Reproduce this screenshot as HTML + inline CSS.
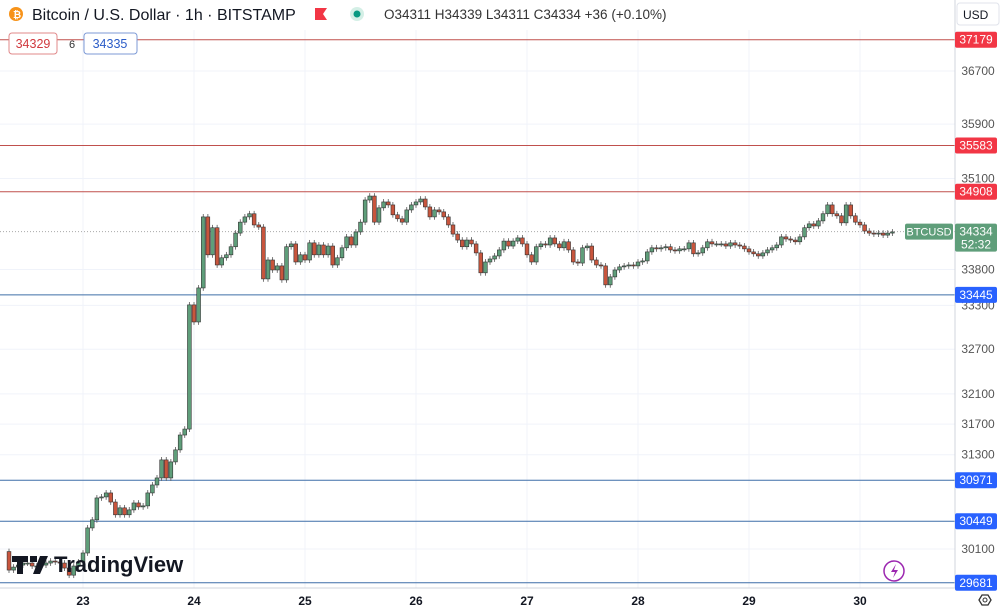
<!DOCTYPE html>
<html><head><meta charset="utf-8"><style>
body{margin:0;width:1001px;height:611px;overflow:hidden;background:#fff;font-family:"Liberation Sans",sans-serif;}
svg{display:block}
</style></head><body>
<svg id="chart" width="1001" height="611" xmlns="http://www.w3.org/2000/svg">
<g id="grid"></g>
<g id="levels"></g>
<g id="candles"></g>
<g id="axis"></g>
<g id="taxis"></g>
<!-- header -->
<circle cx="16" cy="14" r="7" fill="#f7931a"/>
<text x="13" y="18" font-size="10" fill="#fff" font-weight="bold">₿</text>
<text x="32" y="20" font-size="16" fill="#131722">Bitcoin / U.S. Dollar · 1h · BITSTAMP</text>
<path d="M315 8h12l-4 6 4 6h-12z" fill="#f23645"/>
<circle cx="357" cy="14" r="7" fill="#d4efe6"/>
<circle cx="357" cy="14" r="3.5" fill="#089981"/>
<text x="384" y="19" font-size="13.5" fill="#333">O34311 H34339 L34311 C34334 +36 (+0.10%)</text>
<rect x="9" y="33" width="48" height="21" rx="3" fill="#fff" stroke="#e0888a"/>
<text x="33" y="48" font-size="12.5" fill="#d0393e" text-anchor="middle">34329</text>
<text x="72" y="48" font-size="11" fill="#333" text-anchor="middle">6</text>
<rect x="84" y="33" width="53" height="21" rx="3" fill="#fff" stroke="#7d9ad6"/>
<text x="110" y="48" font-size="12.5" fill="#2a5bc7" text-anchor="middle">34335</text>
<rect x="957" y="3" width="42" height="22" rx="3" fill="#fff" stroke="#e0e3eb"/>
<text x="963" y="19" font-size="12" fill="#131722">USD</text>
<!-- logo -->
<g>
<path d="M12 556h16v6h-5v12h-6v-12h-5z M30 556h7v6h-7z M40 556h8l-8 18h-7z" fill="#131722"/>
<text x="54" y="572" font-size="22" font-weight="bold" fill="#131722">TradingView</text>
</g>
<circle cx="894" cy="571" r="10" fill="none" stroke="#9c27b0" stroke-width="1.5"/>
<path d="M896 564l-5 8h4l-2 6 5-8h-4z" fill="#9c27b0"/>
<path d="M979 600l3-5h6l3 5-3 5h-6z" fill="none" stroke="#333" stroke-width="1.3"/>
<circle cx="985" cy="600" r="2" fill="none" stroke="#333"/>
</svg>
<script>
const firstOpen = 30068;
const closes = [29838,29875,29900,29925,29925,29888,29888,29900,29925,29950,29938,29925,29863,29775,29888,29938,
30050,30364,30466,30744,30757,30808,30692,30530,30618,30530,30592,30680,30630,30643,30808,30910,31000,31233,31000,31207,31363,31557,31635,
33307,33072,33542,34545,34006,34390,33863,33964,34006,34120,34314,34470,34545,34590,34430,34400,33668,33933,33793,33850,33654,34120,34160,33905,
34006,33933,34175,34006,34145,34006,34130,33863,33964,34105,34260,34145,34330,34470,34788,34845,34470,34675,34760,34717,34575,34518,34470,34645,
34717,34760,34802,34688,34545,34645,34617,34545,34430,34300,34215,34120,34215,34160,34033,33753,33905,33947,33990,34075,34200,34130,34200,34245,
34160,34006,33905,34120,34160,34145,34245,34160,34105,34190,34075,33905,33890,34105,34130,33933,33863,33850,33585,33696,33793,33836,33850,33863,
33850,33905,33920,34047,34105,34090,34105,34120,34075,34062,34090,34090,34175,34020,34033,34105,34190,34160,34160,34160,34130,34175,34145,34130,
34090,34047,34020,33990,34033,34075,34105,34145,34260,34230,34215,34190,34260,34390,34445,34415,34488,34590,34717,34590,34560,34460,34717,34560,
34470,34430,34343,34314,34300,34314,34285,34314,34330];
const startHour = -16;
const priceTicks = [36700,35900,35100,33800,33300,32700,32100,31700,31300,30100];
const dayLabels = ["23","24","25","26","27","28","29","30"];
const redLevels = [37179,35583,34908];
const blueLevels = [33445,30971,30449,29681];
const lastPrice = 34334;
const countdown = "52:32";

const NS="http://www.w3.org/2000/svg";
const PW=955, PB=588;
function y(p){return 71+2411*Math.log(36700/p);}
function xh(h){return 83+h*111/24;}
function mk(tag,attrs,parent){const e=document.createElementNS(NS,tag);for(const k in attrs)e.setAttribute(k,attrs[k]);parent.appendChild(e);return e;}
const grid=document.getElementById('grid'),lv=document.getElementById('levels'),cg=document.getElementById('candles'),ax=document.getElementById('axis'),tx=document.getElementById('taxis');
mk('rect',{x:PW,y:0,width:46,height:611,fill:'#fff'},ax);
mk('line',{x1:PW,y1:0,x2:PW,y2:PB,stroke:'#d1d4dc'},ax);
mk('line',{x1:0,y1:PB,x2:PW,y2:PB,stroke:'#d1d4dc'},tx);
priceTicks.forEach(p=>{
  const l=mk('line',{x1:0,x2:PW,y1:y(p),y2:y(p),stroke:'#f0f3fa'},grid);
  
  
  const t=mk('text',{x:978,y:y(p)+4,'font-size':12,fill:'#555','text-anchor':'middle'},ax);
  t.textContent=p;
  
  
});
dayLabels.forEach((d,i)=>{
  const X=xh(i*24);
  const l=mk('line',{x1:X,x2:X,y1:30,y2:PB,stroke:'#f0f3fa'},grid);
  
  
  const t=mk('text',{x:X,y:605,'font-size':12,fill:'#131722','text-anchor':'middle','font-weight':'bold'},tx);
  t.textContent=d;
  
  
});
function level(p,col,bg,name){
  const l=mk('line',{x1:0,x2:PW,y1:y(p),y2:y(p),stroke:col,'stroke-width':1},lv);
  
  
  const r=mk('rect',{x:PW,y:y(p)-8,width:42,height:16,rx:2,fill:bg},ax);
  
  
  const t=mk('text',{x:976,y:y(p)+4,'font-size':12,fill:'#fff','text-anchor':'middle'},ax);
  t.textContent=p;
}
redLevels.forEach(p=>level(p,'#c0504d','#f23645','resistance-line'));
blueLevels.forEach(p=>level(p,'#3f6fa8','#2962ff','support-line'));
const lp=mk('line',{x1:0,x2:PW,y1:y(lastPrice),y2:y(lastPrice),stroke:'#aaa','stroke-dasharray':'1 2'},lv);


let prev=firstOpen;
closes.forEach((c,i)=>{
  const o=prev;prev=c;
  const X=xh(startHour+i);
  const up=c>=o;
  const hi=Math.max(o,c)*1.0012, lo=Math.min(o,c)*0.9988;
  const w=mk('line',{x1:X,x2:X,y1:y(hi),y2:y(lo),stroke:'#555','stroke-width':0.8},cg);
  
  
  const top=y(Math.max(o,c)),bot=y(Math.min(o,c));
  const b=mk('rect',{x:X-1.9,y:top,width:3.8,height:Math.max(1,bot-top),fill:up?'#5f9e7a':'#c8553d',stroke:'#333','stroke-width':0.6},cg);
  
  
});
const yl=y(lastPrice);
const g1=mk('rect',{x:905,y:yl-8,width:48,height:16,rx:2,fill:'#5f9e7a'},ax);


const t1=mk('text',{x:929,y:yl+4,'font-size':11,fill:'#fff','text-anchor':'middle'},ax);t1.textContent='BTCUSD';
const g2=mk('rect',{x:PW,y:yl-8,width:42,height:28,rx:2,fill:'#5f9e7a'},ax);


const t2=mk('text',{x:976,y:yl+4,'font-size':12,fill:'#fff','text-anchor':'middle'},ax);t2.textContent=lastPrice;
const t3=mk('text',{x:976,y:yl+17,'font-size':12,fill:'#fff','text-anchor':'middle'},ax);t3.textContent=countdown;
</script>
</body></html>
